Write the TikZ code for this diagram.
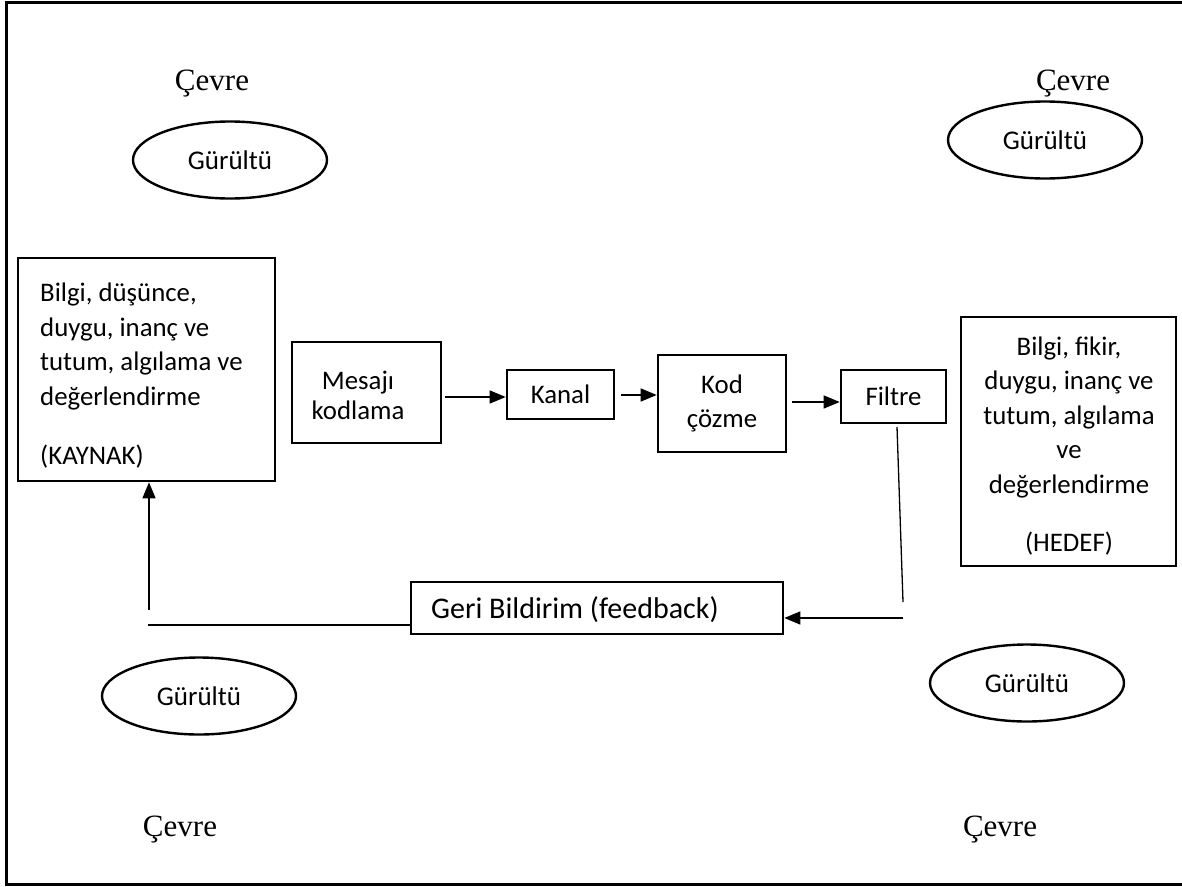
\documentclass[tikz,border=0pt]{standalone}
\usepackage{fontspec}
\setmainfont{Carlito}
\newfontfamily\timesf{Liberation Serif}
\usetikzlibrary{arrows.meta,shapes.geometric}
\begin{document}
\begin{tikzpicture}[x=1pt,y=-1pt,
  box/.style={draw, line width=2.6pt, inner sep=0pt, font=\fontsize{26.8}{34.5}\selectfont, align=center},
  txt/.style={inner sep=0pt, font=\fontsize{26.8}{34.5}\selectfont},
  noise/.style={draw, ellipse, line width=2.4pt, inner sep=0pt, minimum width=194pt, minimum height=77pt, font=\fontsize{27}{30}\selectfont},
  env/.style={inner sep=0pt, font=\timesf\fontsize{31}{36}\selectfont},
  conn/.style={line width=1.3pt},
  arr/.style={line width=1.3pt, -{Triangle[length=16pt,width=13pt]}}]
\useasboundingbox (0,0) rectangle (1182,886);
% frame
\draw[line width=3pt] (1184,2) -- (6,2) -- (6,884) -- (1184,884);
% environment labels
\node[env] (cevre1) at (212,84) {Çevre};
\node[env] (cevre2) at (1073,84) {Çevre};
\node[env] (cevre3) at (180,830) {Çevre};
\node[env] (cevre4) at (1000,830) {Çevre};
% noise ellipses
\node[noise] (g1) at (230,160) {Gürültü};
\node[noise] (g2) at (1045,140) {Gürültü};
\node[noise] (g3) at (199,696) {Gürültü};
\node[noise] (g4) at (1027,683) {Gürültü};
% source
\node[box, minimum width=257pt, minimum height=223pt] (kaynak) at (146.5,369.5) {};
\node[txt, anchor=west, align=left] (kaynaktxt) at (40,376) {Bilgi, düşünce,\\ duygu, inanç ve\\ tutum, algılama ve\\ değerlendirme\\[25pt] (KAYNAK)};
% process boxes
\node[box, minimum width=149pt, minimum height=101pt] (mesaj) at (366.5,392.5) {};
\node[txt, align=center, font=\fontsize{26.8}{30}\selectfont] (mesajtxt) at (358,395) {Mesajı\\ kodlama};
\node[box, minimum width=107pt, minimum height=49pt] (kanal) at (560.5,394.5) {Kanal};
\node[box, minimum width=128pt, minimum height=97pt] (kod) at (722,403.5) {Kod\\ çözme};
\node[box, minimum width=105pt, minimum height=53pt] (filtre) at (893.5,396.5) {Filtre};
% target
\node[box, minimum width=215pt, minimum height=249pt] (hedef) at (1068.5,441.5) {};
\node[txt, align=center] (hedeftxt) at (1069,446) {Bilgi, fikir,\\ duygu, inanç ve\\ tutum, algılama\\ ve\\ değerlendirme\\[23.5pt] (HEDEF)};
% feedback
\node[box, minimum width=372pt, minimum height=52pt] (geri) at (597,608) {};
\node[txt, anchor=west, font=\fontsize{30}{34}\selectfont] (geritxt) at (431,610) {Geri Bildirim (feedback)};
% connectors
\coordinate (a1) at (445,397);
\coordinate (a2) at (621,395);
\coordinate (a3) at (792,402);
\coordinate (f1) at (897,427);
\coordinate (f2) at (903,602);
\coordinate (f3) at (903,618);
\coordinate (b1) at (148,625);
\coordinate (b2) at (149,610);
\draw[arr] (a1) -- (kanal.west |- a1);
\draw[arr] (a2) -- (kod.west |- a2);
\draw[arr] (a3) -- (filtre.west |- a3);
\draw[conn] (f1) -- (f2);
\draw[arr] (f3) -- (geri.east |- f3);
\draw[conn] (geri.west |- b1) -- (b1);
\draw[arr] (b2) -- (kaynak.south -| b2);
\end{tikzpicture}
\end{document}
